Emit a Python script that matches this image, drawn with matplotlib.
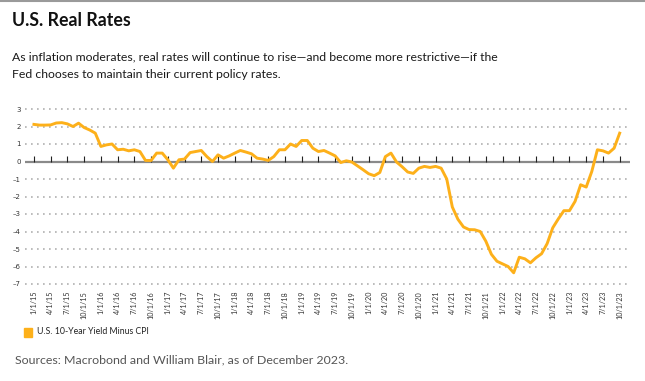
import numpy as np
import matplotlib
matplotlib.use('Agg')
import matplotlib.pyplot as plt
from matplotlib.lines import Line2D

# Real rate = 10-year Treasury yield minus CPI (YoY), monthly Jan 2015 - Oct 2023
real_rate = [
    2.12, 2.08, 2.08, 2.09, 2.20, 2.22, 2.15, 2.00, 2.19, 1.94, 1.80, 1.62,        # 2015
    0.86, 0.95, 1.00, 0.67, 0.70, 0.61, 0.67, 0.57, 0.06, 0.06, 0.48, 0.48,        # 2016
    0.10, -0.38, 0.10, 0.14, 0.51, 0.57, 0.63, 0.28, 0.00, 0.38, 0.19, 0.32,       # 2017
    0.48, 0.63, 0.54, 0.44, 0.19, 0.14, 0.06, 0.28, 0.67, 0.67, 1.00, 0.86,        # 2018
    1.20, 1.20, 0.76, 0.57, 0.63, 0.48, 0.32, -0.06, 0.04, -0.03, -0.25, -0.47,    # 2019
    -0.70, -0.81, -0.63, 0.28, 0.48, -0.03, -0.30, -0.60, -0.68, -0.38, -0.28, -0.34,  # 2020
    -0.28, -0.38, -1.00, -2.60, -3.30, -3.74, -3.89, -3.90, -4.00, -4.55, -5.30, -5.70,  # 2021
    -5.85, -6.00, -6.36, -5.47, -5.56, -5.79, -5.50, -5.27, -4.69, -3.79, -3.28, -2.81,  # 2022
    -2.81, -2.28, -1.33, -1.46, -0.57, 0.67, 0.61, 0.48, 0.76, 1.62,               # 2023
]
months = np.arange(len(real_rate))  # 0 = Jan 2015

tick_pos = np.arange(0, len(real_rate), 3)
tick_labels = [f"{m}/1/{15 + i // 4}" for i, m in enumerate([1, 4, 7, 10] * 9)][:len(tick_pos)]
y_ticks = list(range(-7, 4))

series_name = 'U.S. 10-Year Yield Minus CPI'
orange = '#FDB01A'

fig = plt.figure(figsize=(6.45, 3.81), dpi=100)
ax = fig.add_axes([25 / 645, 1 - 284 / 381, 605 / 645, 175 / 381])

ax.set_xlim(-1.6, 106.85)
ax.set_ylim(-7, 3)

# dotted horizontal grid
for y in y_ticks:
    if y != 0:
        ax.axhline(y, color='#b0b0b0', lw=1.2, ls=(0, (1, 2.6)), zorder=1, clip_on=False)
ax.axhline(0, color='#8a8a8a', lw=1.6, zorder=2)
ax.vlines(tick_pos, 0, 0.3, color='#222222', lw=0.8, zorder=2)

ax.plot(months, real_rate, color=orange, lw=2.1, zorder=3, solid_joinstyle='round')

for s in ax.spines.values():
    s.set_visible(False)
ax.set_yticks(y_ticks)
ax.set_yticklabels([str(v).replace('-', '\u2013') for v in y_ticks])
ax.tick_params(axis='y', length=0, pad=3, labelsize=5, labelcolor='#333333')
ax.set_xticks(tick_pos)
ax.set_xticklabels(tick_labels, rotation=90, fontsize=5.2, color='#333333', family='Lato')
ax.tick_params(axis='x', length=0, pad=5)

# legend
fig.patches.append(plt.Rectangle((24 / 645, 1 - 337 / 381), 8 / 645, 9 / 381,
                                 transform=fig.transFigure, color=orange, figure=fig))
fig.text(37 / 645, 1 - 332 / 381, series_name, fontsize=6.3, color='#222222',
         va='center', ha='left', family='Lato')

# top rule
fig.add_artist(Line2D([0, 1], [0.998, 0.998], color='#9a9a9a', lw=1.5, transform=fig.transFigure))

fig.text(12 / 645, 1 - 20 / 381, 'U.S. Real Rates', fontsize=12.8, fontweight='bold',
         color='#111111', va='center', ha='left', family='Lato')
fig.text(12 / 645, 1 - 66 / 381,
         'As inflation moderates, real rates will continue to rise\u2014and become more restrictive\u2014if the\n'
         'Fed chooses to maintain their current policy rates.',
         fontsize=8.8, color='#1a1a1a', va='center', ha='left', family='Lato', linespacing=1.7)
fig.text(15 / 645, 1 - 360 / 381, 'Sources: Macrobond and William Blair, as of December 2023.',
         fontsize=8.9, color='#555555', va='center', ha='left', family='Lato')

fig.savefig('out.png', dpi=100)
